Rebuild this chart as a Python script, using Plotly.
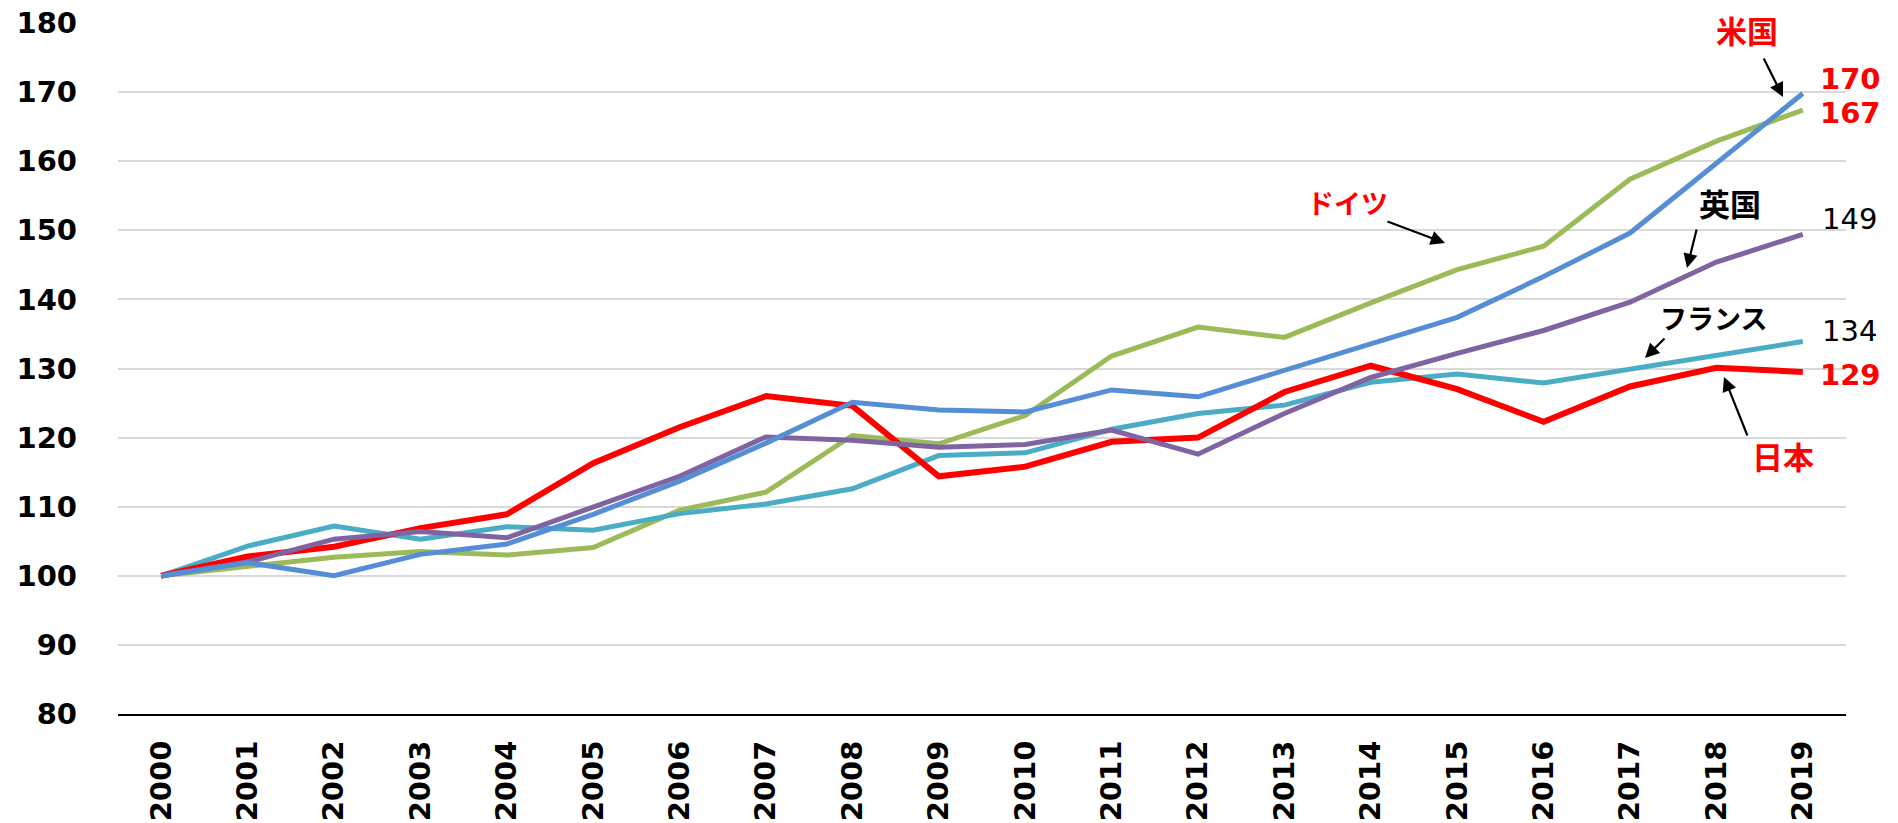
import plotly.graph_objects as go

years = [str(y) for y in range(2000, 2020)]

japan = [100, 102.8, 104.2, 106.9, 108.9, 116.3, 121.5, 126.0, 124.6, 114.4, 115.8,
         119.4, 120.0, 126.6, 130.4, 127.0, 122.3, 127.4, 130.1, 129.5]
usa = [100, 101.9, 100.0, 103.1, 104.6, 108.9, 113.7, 119.2, 125.1, 124.0, 123.7,
       126.9, 125.9, 129.7, 133.5, 137.4, 143.3, 149.6, 159.7, 169.8]
germany = [100, 101.4, 102.7, 103.5, 103.0, 104.1, 109.5, 112.1, 120.3, 119.1, 123.2,
           131.8, 136.0, 134.5, 139.5, 144.3, 147.7, 157.4, 162.9, 167.4]
uk = [100, 102.0, 105.3, 106.4, 105.5, 110.0, 114.4, 120.1, 119.6, 118.6, 119.0,
      121.1, 117.6, 123.5, 128.7, 132.2, 135.5, 139.6, 145.4, 149.4]
france = [100, 104.3, 107.2, 105.3, 107.1, 106.6, 109.0, 110.4, 112.6, 117.4, 117.8,
          121.2, 123.5, 124.7, 128.0, 129.2, 127.9, 129.9, 131.8, 133.9]

y_ticks = [80, 90, 100, 110, 120, 130, 140, 150, 160, 170, 180]

series = [
    ("ドイツ", germany, "#9bbb59", 5),
    ("フランス", france, "#4bacc6", 5),
    ("日本", japan, "#ff0000", 6),
    ("英国", uk, "#8064a2", 5),
    ("米国", usa, "#558ed5", 5),
]

fig = go.Figure()
for name, vals, color, w in series:
    fig.add_trace(go.Scatter(x=years, y=vals, mode="lines", name=name,
                             line=dict(color=color, width=w)))

W, H = 1898, 823
L, R, T, B = 118, 52, 23, 109
PW, PH = W - L - R, H - T - B


def px(x):
    return (x - L) / PW


def py(y):
    return (H - B - y) / PH


tick_font = dict(family="DejaVu Sans", size=29, color="black", weight="bold")

fig.update_layout(
    width=W, height=H, autosize=False,
    margin=dict(l=L, r=R, t=T, b=B, autoexpand=False),
    plot_bgcolor="white", paper_bgcolor="white",
    showlegend=False,
    xaxis=dict(type="category", range=[-0.5, len(years) - 0.5], tickangle=-90,
               tickfont=tick_font, automargin=False,
               showgrid=False, showline=True, linecolor="black", linewidth=2,
               ticks="", ticklabelstandoff=13, fixedrange=True),
    yaxis=dict(range=[80, 180], tickvals=y_ticks, tickfont=tick_font,
               automargin=False,
               showgrid=True, gridcolor="#d9d9d9", gridwidth=2,
               zeroline=False, showline=False, ticks="",
               ticklabelstandoff=40, fixedrange=True),
)

cjk = "Noto Sans CJK JP"
labels = [
    ("米国", 1747, 29, "#ff0000", cjk, 31, "bold"),
    ("ドイツ", 1347, 202, "#ff0000", cjk, 27, "bold"),
    ("英国", 1730, 202, "black", cjk, 31, "bold"),
    ("フランス", 1713, 317, "black", cjk, 27, "bold"),
    ("日本", 1783, 455, "#ff0000", cjk, 31, "bold"),
    ("170", 1850, 79, "#ff0000", "DejaVu Sans", 29, "bold"),
    ("167", 1850, 113, "#ff0000", "DejaVu Sans", 29, "bold"),
    ("149", 1849, 219, "black", "DejaVu Sans", 29, "normal"),
    ("134", 1849, 331, "black", "DejaVu Sans", 29, "normal"),
    ("129", 1850, 375, "#ff0000", "DejaVu Sans", 29, "bold"),
]
for text, x, y, color, fam, size, weight in labels:
    fig.add_annotation(x=px(x), y=py(y), xref="paper", yref="paper", text=text,
                       showarrow=False, xanchor="center", yanchor="middle",
                       font=dict(family=fam, size=size, color=color, weight=weight))

arrows = [
    ((1763, 57), (1783, 97)),
    ((1386, 221), (1445, 243)),
    ((1697, 228), (1687, 268)),
    ((1666, 337), (1645, 358)),
    ((1748, 437), (1724, 377)),
]
for (tx, ty), (hx, hy) in arrows:
    fig.add_annotation(x=px(hx), y=py(hy), xref="paper", yref="paper", text="",
                       showarrow=True, ax=tx - hx, ay=ty - hy,
                       arrowhead=2, arrowsize=1.3, arrowwidth=2.2,
                       arrowcolor="black")

fig.write_html("out.html", config={"displayModeBar": False},
               post_script="document.body.style.margin='0px';"
                           "document.body.style.overflow='hidden';")
